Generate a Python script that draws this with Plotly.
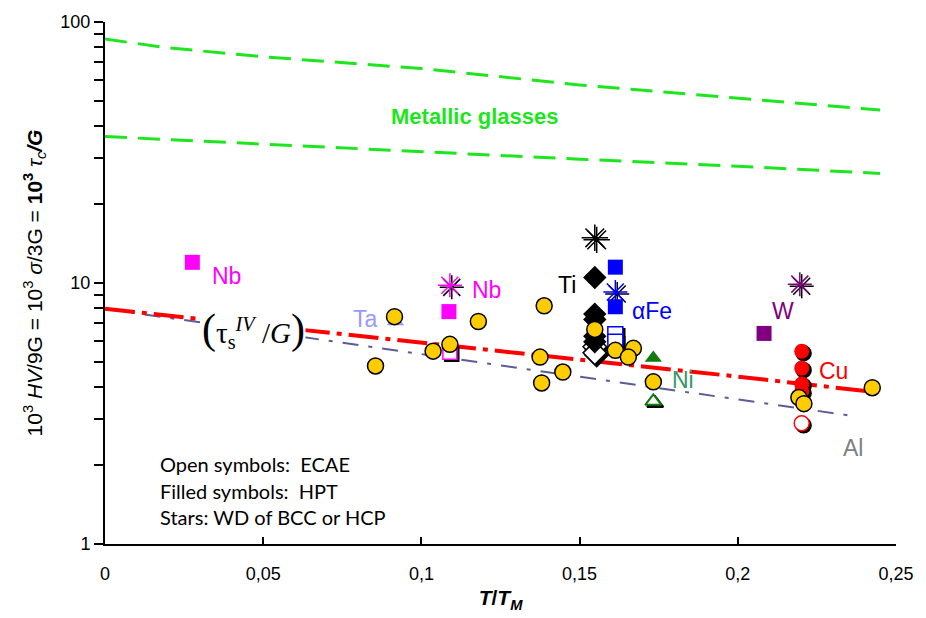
import math
import plotly.graph_objects as go

# ---- reference curves (T/T_M, normalised strength) ----
glass_hi_x = [0.0, 0.02, 0.05, 0.10, 0.15, 0.20, 0.245]
glass_hi_y = [86.0, 79.6, 73.6, 66.3, 57.4, 51.0, 46.0]
glass_lo_x = [0.0, 0.05, 0.10, 0.15, 0.20, 0.245]
glass_lo_y = [36.4, 34.0, 31.8, 29.8, 28.0, 26.3]
tau_x = [0.0, 0.05, 0.10, 0.15, 0.20, 0.245]
tau_y = [7.97, 6.87, 5.93, 5.11, 4.38, 3.80]
al_x = [0.0, 0.10, 0.20, 0.236]
al_y = [7.97, 5.35, 3.58, 3.10]

# ---- measured points ----
yellow_x = [0.0855, 0.0915, 0.1037, 0.109, 0.118, 0.1388, 0.1375, 0.138, 0.1447,
            0.1548, 0.1613, 0.167, 0.1654, 0.1733, 0.2193, 0.2209, 0.2425]
yellow_y = [4.81, 7.43, 5.48, 5.82, 7.12, 8.18, 5.20, 4.14, 4.56,
            6.64, 5.52, 5.62, 5.20, 4.18, 3.64, 3.45, 3.97]

nb_hpt_x = [0.0276, 0.1087]
nb_hpt_y = [12.0, 7.77]
nb_ecae_x = [0.109]
nb_ecae_y = [5.43]
nb_wd_x = [0.109]
nb_wd_y = [9.8]

ta_x = [0.0918]
ta_y = [7.12]

ti_hpt_x = [0.1548, 0.1548, 0.1548, 0.1548, 0.1548]
ti_hpt_y = [10.5, 7.6, 7.25, 6.25, 5.95]
ti_ecae_x = [0.1548, 0.1548]
ti_ecae_y = [5.7, 5.4]
ti_wd_x = [0.1548]
ti_wd_y = [14.9]

fe_hpt_x = [0.1613, 0.1613]
fe_hpt_y = [11.5, 8.11]
fe_ecae_x = [0.1613, 0.1613]
fe_ecae_y = [6.36, 5.95]
fe_wd_x = [0.1613]
fe_wd_y = [9.24]

ni_hpt_x = [0.1733]
ni_hpt_y = [5.16]
ni_ecae_x = [0.1733]
ni_ecae_y = [3.52]

w_hpt_x = [0.2083]
w_hpt_y = [6.41]
w_wd_x = [0.2196]
w_wd_y = [9.9]

cu_hpt_x = [0.2202, 0.2202, 0.2202, 0.2202]
cu_hpt_y = [5.48, 4.72, 4.10, 3.85]
cu_ecae_x = [0.2202]
cu_ecae_y = [2.90]

x_ticks = [0, 0.05, 0.10, 0.15, 0.20, 0.25]
x_tick_text = ["0", "0,05", "0,1", "0,15", "0,2", "0,25"]
# every integer of each decade gets a tick, only the decades are labelled
y_ticks = [m * d for d in (1, 10) for m in range(1, 10)] + [100]
y_tick_text = [str(v) if v in (1, 10, 100) else "" for v in y_ticks]

FONT = "Liberation Sans"
SHADOW_DX = 0.0006
SHADOW_FY = 0.982

fig = go.Figure()


def line(x, y, color, width, dash):
    fig.add_trace(go.Scatter(x=x, y=y, mode="lines",
                             line=dict(color=color, width=width, dash=dash),
                             hoverinfo="skip"))


def points(x, y, symbol, color, size, filled=True, shadow=False, lw=1.5):
    if shadow:
        fig.add_trace(go.Scatter(
            x=[v + SHADOW_DX for v in x], y=[v * SHADOW_FY for v in y],
            mode="markers",
            marker=dict(symbol=symbol, size=size, color="black",
                        line=dict(color="black", width=lw))))
    if symbol.endswith("-open"):
        marker = dict(symbol=symbol, size=size, color=color,
                      line=dict(color=color, width=lw))
    elif filled:
        marker = dict(symbol=symbol, size=size, color=color,
                      line=dict(color=color, width=0))
    else:
        marker = dict(symbol=symbol, size=size, color="white",
                      line=dict(color=color, width=lw))
    fig.add_trace(go.Scatter(x=x, y=y, mode="markers", marker=marker))


def note(text, x, y, color="black", size=23, family=FONT, **kw):
    # annotation y on a log axis is given in decades
    fig.add_annotation(x=x, y=math.log10(y), text=text, showarrow=False,
                       font=dict(family=family, size=size, color=color), **kw)


# curves
line(glass_hi_x, glass_hi_y, "#1ee61e", 3, "22px,11px")
line(glass_lo_x, glass_lo_y, "#1ee61e", 3, "22px,11px")
line(al_x, al_y, "#5c5c99", 2, "16px,10px,4px,10px")
line(tau_x, tau_y, "#ff0000", 4, "30px,7px,5px,7px")

# data points
points(nb_wd_x, nb_wd_y, "asterisk-open", "#ff00ff", 20, shadow=True)
points(ti_wd_x, ti_wd_y, "asterisk-open", "black", 22, shadow=True)
points(fe_wd_x, fe_wd_y, "asterisk-open", "#0000ff", 20, shadow=True)
points(w_wd_x, w_wd_y, "asterisk-open", "#800080", 20, shadow=True)

points(nb_hpt_x, nb_hpt_y, "square", "#ff00ff", 15)
points(nb_ecae_x, nb_ecae_y, "square", "#ff00ff", 14, filled=False, shadow=True)
points(ta_x, ta_y, "triangle-up", "#9999ff", 15)
points(ti_ecae_x, ti_ecae_y, "diamond", "black", 18, filled=False, shadow=True)
points(ti_hpt_x, ti_hpt_y, "diamond", "black", 18)
points(fe_ecae_x, fe_ecae_y, "square", "#0000ff", 15, filled=False, shadow=True)
points(fe_hpt_x, fe_hpt_y, "square", "#0000ff", 15)
points(ni_hpt_x, ni_hpt_y, "triangle-up", "#107a10", 15)
points(ni_ecae_x, ni_ecae_y, "triangle-up", "#107a10", 14, filled=False,
       shadow=True, lw=2)
points(w_hpt_x, w_hpt_y, "square", "#800080", 15)
points(cu_hpt_x, cu_hpt_y, "circle", "#ff0000", 15, shadow=True)
points(cu_ecae_x, cu_ecae_y, "circle", "#ff0000", 15, filled=False, shadow=True)

fig.add_trace(go.Scatter(
    x=yellow_x, y=yellow_y, mode="markers",
    marker=dict(symbol="circle", size=16, color="#ffcc00",
                line=dict(color="black", width=1.5))))

# labels
labels = [
    ("Nb", 0.0385, 10.6, "#ff00ff"),
    ("Nb", 0.1206, 9.41, "#ff00ff"),
    ("Ta", 0.0824, 7.3, "#9999ff"),
    ("Ti", 0.146, 9.83, "black"),
    ("αFe", 0.173, 7.83, "#0000ff"),
    ("W", 0.2143, 7.83, "#800080"),
    ("Ni", 0.1826, 4.25, "#339966"),
    ("Cu", 0.2303, 4.6, "#ff0000"),
    ("Al", 0.2365, 2.34, "#808080"),
]
for text, lx, ly, col in labels:
    note(text, lx, ly, col)

note("<b>Metallic glasses</b>", 0.1169, 43.6, "#1ee61e", size=22)

note("<span style='font-size:42px'>(</span>τ<sub>s</sub><sup><i>IV</i></sup> /<i>G</i>"
     "<span style='font-size:42px'>)</span>",
     0.047, 6.64, size=29, family="Liberation Serif",
     bgcolor="white", borderpad=0)

for text, ny in [("Open symbols:  ECAE", 2.03),
                 ("Filled symbols:  HPT", 1.60),
                 ("Stars: WD of BCC or HCP", 1.265)]:
    note(text, 0.0166, ny, size=20, family="Lato", xanchor="left")

fig.update_layout(
    width=926, height=618,
    margin=dict(l=105, r=23, t=18, b=72),
    paper_bgcolor="white", plot_bgcolor="white",
    showlegend=False,
    font=dict(family=FONT, color="black"),
    xaxis=dict(
        range=[0, 0.25], tickmode="array", tickvals=x_ticks, ticktext=x_tick_text,
        ticks="inside", ticklen=7, tickwidth=2, tickcolor="#000000",
        showline=True, linecolor="black", linewidth=2,
        showgrid=False, zeroline=False,
        tickfont=dict(family=FONT, size=18, color="black"),
        ticklabelstandoff=12,
        title=dict(text="<b><i>T</i>/<i>T</i><sub><i>M</i></sub></b>",
                   font=dict(family=FONT, size=21, color="black"),
                   standoff=8),
    ),
    yaxis=dict(
        type="log", range=[0, 2],
        tickmode="array", tickvals=y_ticks, ticktext=y_tick_text,
        ticks="outside", ticklen=9, tickwidth=2, tickcolor="#000000",
        showline=True, linecolor="black", linewidth=2,
        showgrid=False, zeroline=False,
        tickfont=dict(family=FONT, size=18, color="black"),
        title=dict(
            text="10<sup>3</sup> <i>HV</i>/9G = 10<sup>3</sup> <i>σ</i>/3G = "
                 "<b>10<sup>3</sup></b> <i>τ<sub>c</sub></i><b><i>/G</i></b>",
            font=dict(family=FONT, size=21, color="black"),
            standoff=12),
    ),
)

fig.write_html("out.html")
